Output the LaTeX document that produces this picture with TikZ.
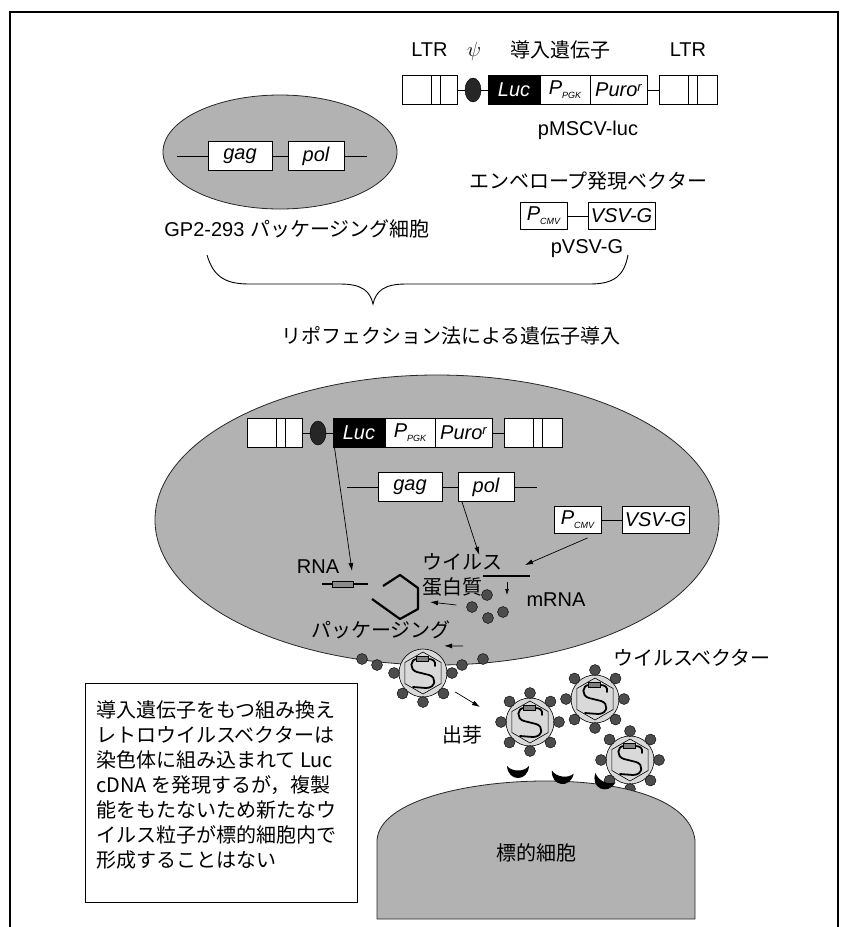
\documentclass[tikz,border=0pt]{standalone}
\usepackage{fontspec}
\setmainfont{Liberation Sans}
\newfontfamily\jp{Noto Sans CJK JP}
\usetikzlibrary{arrows.meta,shapes.geometric}

\tikzset{
  genebox/.style={draw, line width=0.9pt, fill=white, minimum height=29pt,
    inner sep=0pt, font=\fontsize{20}{20}\selectfont\itshape},
  arr/.style={-{Latex[length=8pt,width=5pt]}, line width=0.7pt},
  cellbody/.style={fill=black!30, draw=black!85, line width=0.8pt},
  pdot/.style={circle, fill=black!70, draw=black, line width=0.4pt,
    inner sep=0pt, minimum size=11pt},
  lbl/.style={inner sep=0pt, font=\fontsize{20}{25}\selectfont},
  jlbl/.style={inner sep=0pt, font=\jp\fontsize{20}{25}\selectfont},
}

% small subscript of a promoter name
\newcommand{\promsub}[1]{\raisebox{-4pt}{\fontsize{9}{9}\selectfont #1}}

% retroviral vector: #1 prefix, (#2,#3) left end of the 5' LTR
\newcommand{\mscvluc}[3]{%
  \begin{scope}[shift={(#2,#3)}]
    \draw[line width=0.9pt] (55,0) -- (86,0) (245,0) -- (257,0);
    \node[genebox, minimum width=55pt] (#1ltrA) at (27.5,0) {};
    \draw[line width=0.9pt] (29,-14.5) -- (29,14.5) (38,-14.5) -- (38,14.5);
    \node[ellipse, draw, fill=black!85, minimum width=16pt, minimum height=24pt,
      inner sep=0pt] (#1psi) at (71,0) {};
    \node[genebox, fill=black, text=white, minimum width=52pt] (#1luc) at (112,0) {Luc};
    \node[genebox, minimum width=50pt] (#1pgk) at (163,0) {P\promsub{PGK}};
    \node[genebox, minimum width=57pt] (#1puro) at (216.5,0)
      {Puro\raisebox{5pt}{\fontsize{13}{13}\selectfont r}};
    \node[genebox, minimum width=58pt] (#1ltrB) at (286,0) {};
    \draw[line width=0.9pt] (286,-14.5) -- (286,14.5) (295,-14.5) -- (295,14.5);
  \end{scope}}

% gag-pol: #1 prefix, (#2,#3) left end of the line
\newcommand{\gagpol}[3]{%
  \begin{scope}[shift={(#2,#3)}]
    \draw[line width=0.9pt] (0,0) -- (190,0);
    \node[genebox, minimum width=64pt] (#1gag) at (63,0) {gag};
    \node[genebox, minimum width=56pt] (#1pol) at (139,0) {pol};
  \end{scope}}

% envelope: #1 prefix, (#2,#3) left edge of the promoter box
\newcommand{\vsvg}[3]{%
  \begin{scope}[shift={(#2,#3)}]
    \draw[line width=0.9pt] (47,0) -- (68,0);
    \node[genebox, minimum width=47pt, minimum height=27pt] (#1cmv) at (23.5,0) {P\promsub{CMV}};
    \node[genebox, minimum width=67pt, minimum height=27pt] (#1vsv) at (101.5,0) {VSV-G};
  \end{scope}}

% virus particle: #1 name, (#2,#3) centre, #4 angles of the envelope dots
\newcommand{\virion}[4]{%
  \begin{scope}[shift={(#2,#3)}]
    \node[circle, draw, line width=0.6pt, fill=black!15, minimum size=48pt,
      inner sep=0pt] (#1) at (0,0) {};
    \draw[line width=0.6pt] (90:21pt) -- (30:21pt) -- (-30:21pt) -- (-90:21pt)
      -- (-150:21pt) -- (150:21pt) -- cycle;
    % RNA genome
    \draw[line width=1.8pt, line cap=round] (12,-7) .. controls (13,-12) and (10,-14) .. (5,-14)
      -- (-6,-14) .. controls (-13,-14) and (-14,-3) .. (-6,-1) -- (6,2)
      .. controls (14,4) and (13,15) .. (3,15) -- (-10,14);
    \draw[fill=black!50, line width=0.5pt] (-7,-16.5) rectangle (5,-11.5);
    \foreach \a in {#4} \node[pdot] at (\a:29pt) {};
  \end{scope}}

% receptor on the target cell: (#1,#2) centre, #3 tilt
\newcommand{\receptor}[3]{%
  \fill[rotate around={#3:(#1,#2)}] (#1,#2) ++(-11,-6) .. controls +(1,16) and +(-1,16) .. ++(22,0)
    .. controls +(-5,6) and +(5,6) .. ++(-22,0) -- cycle;}

\begin{document}
\begin{tikzpicture}[x=1pt,y=-1pt]
\useasboundingbox (0,0) rectangle (843,927);

% frame
\draw[line width=1.8pt] (10,927) -- (10,12) -- (838,12) -- (838,927);

% packaging cell
\draw[cellbody] (280,152) ellipse (117pt and 57pt);
\gagpol{t}{177}{156}
\node[lbl] (gpcell) at (297,229) {GP2-293 {\jp パッケージング細胞}};

% transfer vector
\mscvluc{t}{402}{90}
\node[lbl] (tltrAl) at (429.5,50) {LTR};
\node[lbl] (tpsil) at (474,51) {$\psi$};
\node[jlbl] (tgene) at (560,50) {導入遺伝子};
\node[lbl] (tltrBl) at (688,50) {LTR};
\node[lbl] (tname) at (588,130) {pMSCV-luc};

% envelope vector
\node[jlbl] (envl) at (588,181) {エンベロープ発現ベクター};
\vsvg{t}{520}{216}
\node[lbl] (vname) at (587,249) {pVSV-G};

% brace
\draw[line width=0.9pt] (207,255) .. controls (214,279) and (228,284) .. (250,284) -- (340,284)
  .. controls (362,284) and (370,291) .. (373,304) .. controls (376,291) and (384,284) .. (406,284)
  -- (590,284) .. controls (614,284) and (624,276) .. (628,255);
\node[jlbl] (lipo) at (451,336) {リポフェクション法による遺伝子導入};

% transfected packaging cell
\draw[cellbody] (437,520) ellipse (282pt and 145pt);
\mscvluc{b}{247}{433}
\gagpol{b}{347}{487}
\vsvg{b}{554}{520}

% transcripts and proteins
\draw[line width=1.6pt] (322,584) -- (368,584);
\node[draw, fill=black!45, line width=0.5pt, minimum width=21pt, minimum height=6pt,
  inner sep=0pt] (rnaseg) at (342.5,584) {};
\node[lbl] (rnal) at (318,567) {RNA};
\coordinate (mrnaL) at (483,576);
\coordinate (mrnaR) at (530,576);
\draw[line width=1.6pt] (mrnaL) -- (mrnaR);
\node[lbl] (mrnal) at (556,600) {mRNA};
\node[jlbl, align=left, anchor=west] (vprot) at (422,574.5) {ウイルス\\蛋白質};
\node[pdot] (p1) at (487,595) {};
\node[pdot] (p2) at (472,607) {};
\node[pdot] (p3) at (488,618) {};
\node[pdot] (p4) at (503,612) {};
\coordinate (capsid) at (400,597);
\draw[line width=2.2pt, line join=round] ([shift={(-17pt,11pt)}]capsid) -- ([shift={(0pt,22pt)}]capsid)
  -- ([shift={(18pt,9pt)}]capsid) -- ([shift={(18pt,-12pt)}]capsid)
  -- ([shift={(0pt,-22pt)}]capsid) -- ([shift={(-28pt,-2pt)}]capsid);
\node[jlbl] (pack) at (381,630) {パッケージング};

\draw[arr] ([xshift=2pt]bluc.south west) -- ([shift={(9.5pt,13pt)}]rnaseg.center);
\draw[arr] ([xshift=-24pt]bpol.south) -- ([xshift=17pt,yshift=-2pt]vprot.north);
\draw[arr] ([shift={(10pt,-4pt)}]bcmv.south) -- ([shift={(-5pt,11pt)}]mrnaR);
\draw[-{Latex[length=6pt,width=4pt]}, line width=0.7pt] ([shift={(24pt,-6pt)}]mrnaL) -- ++(0,13);
\draw[arr] ([shift={(-10pt,2pt)}]p2.west) -- ([shift={(30pt,-5pt)}]capsid);

% budding
\foreach \x/\y [count=\i] in {362/659,377/665,462/665,483/659}
  \node[pdot] (m\i) at (\x,\y) {};
\virion{bud}{423}{673}{180,225,270,315,0}
\draw[arr] ([shift={(-25pt,-28pt)}]p3.center) -- ([shift={(4pt,10pt)}]bud.north east);
\coordinate (budout) at (480,707);
\draw[arr] ([shift={(8pt,-19pt)}]bud.east) -- (budout);
\node[jlbl] (budl) at (462,735) {出芽};

% released virus vectors
\node[jlbl] (vecl) at (692,658) {ウイルスベクター};
\virion{v1}{530}{722}{0,45,...,315}
\virion{v2}{595}{699}{0,45,...,315}
\virion{v3}{630}{760}{0,45,...,315}

% target cell
\draw[cellbody] (377,919) -- (377,840) .. controls (380,800) and (470,781) .. (545,781)
  .. controls (625,781) and (690,800) .. (695,840) -- (695,919) -- cycle;
\receptor{518}{772}{0}
\receptor{562}{778}{-8}
\receptor{603}{783}{-25}
\node[jlbl] (tcell) at (536,853) {標的細胞};

% note
\node[draw, line width=1pt, minimum width=272pt, minimum height=219pt] (notebox) at (221,792.5) {};
\node[jlbl, align=left, anchor=north west] (notetext) at (96,700)
  {導入遺伝子をもつ組み換え\\レトロウイルスベクターは\\染色体に組み込まれて Luc\\cDNA を発現するが，複製\\
   能をもたないため新たなウ\\イルス粒子が標的細胞内で\\形成することはない};
\end{tikzpicture}
\end{document}
